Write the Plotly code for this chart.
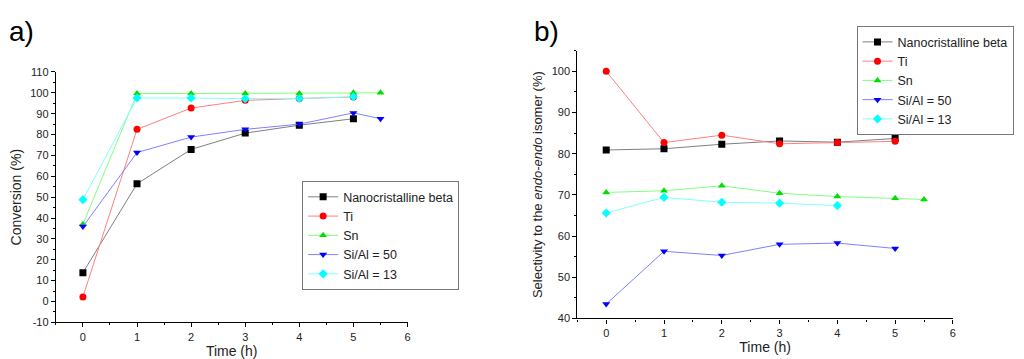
import plotly.graph_objects as go

series_names = ["Nanocristalline beta", "Ti", "Sn", "Si/Al = 50", "Si/Al = 13"]
marker_colors = ["#000000", "#ff0000", "#00e000", "#0000ff", "#00ffff"]
line_colors = ["#7f7f7f", "#ff8080", "#80ff80", "#8080ff", "#80ffff"]
symbols = ["square", "circle", "triangle-up", "triangle-down", "diamond"]

# Panel a: conversion
time_a = [
    [0, 1, 2, 3, 4, 5],
    [0, 1, 2, 3, 4, 5],
    [0, 1, 2, 3, 4, 5, 5.5],
    [0, 1, 2, 3, 4, 5, 5.5],
    [0, 1, 2, 3, 4, 5],
]
conv_beta = [13.8, 56.4, 72.9, 80.7, 84.5, 87.6]
conv_ti = [2.2, 82.5, 92.7, 96.4, 97.3, 98.0]
conv_sn = [37.0, 99.7, 99.7, 99.7, 99.7, 100.0, 100.0]
conv_si50 = [35.9, 71.4, 78.8, 82.5, 85.0, 90.4, 87.6]
conv_si13 = [48.8, 97.5, 97.5, 97.2, 97.3, 98.1]
conv = [conv_beta, conv_ti, conv_sn, conv_si50, conv_si13]
conv_tickvals = [-10, 0, 10, 20, 30, 40, 50, 60, 70, 80, 90, 100, 110]
conv_ticktext = ["-10", "0", "10", "20", "30", "40", "50", "60", "70", "80", "90", "100", "110"]

# Panel b: selectivity
time_b = [
    [0, 1, 2, 3, 4, 5],
    [0, 1, 2, 3, 4, 5],
    [0, 1, 2, 3, 4, 5, 5.5],
    [0, 1, 2, 3, 4, 5],
    [0, 1, 2, 3, 4],
]
sel_beta = [80.9, 81.2, 82.3, 83.1, 82.8, 83.7]
sel_ti = [100.0, 82.7, 84.5, 82.4, 82.7, 83.0]
sel_sn = [70.6, 71.0, 72.2, 70.4, 69.6, 69.2, 68.9]
sel_si50 = [43.5, 56.3, 55.3, 58.0, 58.3, 57.0]
sel_si13 = [65.6, 69.4, 68.2, 68.0, 67.4]
sel = [sel_beta, sel_ti, sel_sn, sel_si50, sel_si13]

W, H = 1024, 359
FONT = "Liberation Sans, Arial, sans-serif"

fig = go.Figure()
for i in range(5):
    fig.add_trace(go.Scatter(
        x=time_a[i], y=conv[i], mode="lines+markers", name=series_names[i],
        line=dict(color=line_colors[i], width=1),
        marker=dict(symbol=symbols[i], color=marker_colors[i], size=7),
        xaxis="x", yaxis="y", legend="legend",
    ))
for i in range(5):
    fig.add_trace(go.Scatter(
        x=time_b[i], y=sel[i], mode="lines+markers", name=series_names[i],
        line=dict(color=line_colors[i], width=1),
        marker=dict(symbol=symbols[i], color=marker_colors[i], size=7),
        xaxis="x2", yaxis="y2", legend="legend2",
    ))

def px_x(p):
    return p / W

def px_y(p):
    return (H - p) / H

axis_common = dict(
    showline=True, linecolor="black", linewidth=1.2, mirror=False,
    ticks="outside", ticklen=4, tickwidth=1, tickcolor="black",
    showgrid=False, zeroline=False,
    tickfont=dict(family=FONT, size=11, color="#222"),
)

fig.update_layout(
    width=W, height=H, margin=dict(l=0, r=0, t=0, b=0),
    plot_bgcolor="white", paper_bgcolor="white",
    font=dict(family=FONT, color="#222"),
    xaxis=dict(domain=[px_x(48), px_x(400.7)], range=[-0.5, 6], dtick=1,
               minor=dict(ticks="outside", ticklen=2, dtick=0.5, tickcolor="black"),
               title=dict(text="Time (h)", font=dict(size=14), standoff=2),
               anchor="y", **axis_common),
    yaxis=dict(domain=[px_y(319), px_y(60)], range=[-10, 110],
               tickmode="array", tickvals=conv_tickvals, ticktext=conv_ticktext,
               minor=dict(ticks="outside", ticklen=2, dtick=5, tickcolor="black"),
               title=dict(text="Conversion (%)", font=dict(size=14), standoff=6),
               anchor="x", **axis_common),
    xaxis2=dict(domain=[px_x(571), px_x(947.7)], range=[-0.5, 6], dtick=1,
                minor=dict(ticks="outside", ticklen=2, dtick=0.5, tickcolor="black"),
                title=dict(text="Time (h)", font=dict(size=14), standoff=4),
                anchor="y2", **axis_common),
    yaxis2=dict(domain=[px_y(315), px_y(38)], range=[40, 105], dtick=10,
                tick0=40,
                minor=dict(ticks="outside", ticklen=2, dtick=5, tickcolor="black"),
                title=dict(text="Selectivity to the <i>endo-endo</i> isomer (%)",
                           font=dict(size=13), standoff=6),
                anchor="x2", **axis_common),
    legend=dict(x=px_x(295), y=px_y(173), xanchor="left", yanchor="top",
                bordercolor="#777", borderwidth=1, bgcolor="white",
                font=dict(family=FONT, size=12.5, color="#222"),
                tracegroupgap=0, itemwidth=30),
    legend2=dict(x=px_x(851), y=px_y(12.7), xanchor="left", yanchor="top",
                 bordercolor="#777", borderwidth=1, bgcolor="white",
                 font=dict(family=FONT, size=12.5, color="#222"),
                 tracegroupgap=0, itemwidth=30),
    annotations=[
        dict(text="a)", x=px_x(-1), y=px_y(0), xref="paper", yref="paper",
             xanchor="left", yanchor="top", showarrow=False,
             font=dict(family=FONT, size=28, color="black")),
        dict(text="b)", x=px_x(526), y=px_y(0), xref="paper", yref="paper",
             xanchor="left", yanchor="top", showarrow=False,
             font=dict(family=FONT, size=28, color="black")),
    ],
)

fig.write_html("out.html")
